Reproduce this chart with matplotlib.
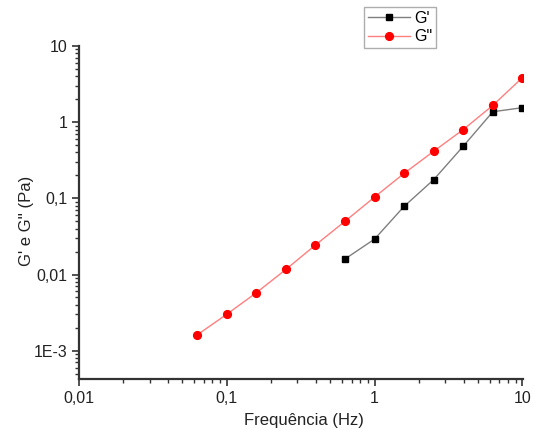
import matplotlib
matplotlib.use("Agg")
import matplotlib.pyplot as plt
from matplotlib.ticker import LogLocator, FixedLocator, FixedFormatter, NullFormatter

plt.rcParams['font.family'] = ['Liberation Sans', 'DejaVu Sans']

freq_g1 = [0.631, 1.0, 1.585, 2.512, 3.981, 6.31, 10.0]
g1 = [0.016, 0.0292, 0.0785, 0.176, 0.483, 1.37, 1.55]
freq_g2 = [0.063, 0.1, 0.158, 0.251, 0.398, 0.631, 1.0, 1.585, 2.512, 3.981, 6.31, 10.0]
g2 = [0.00161, 0.00301, 0.00574, 0.01165, 0.0244, 0.050, 0.104, 0.213, 0.415, 0.80, 1.66, 3.84]

xticks = [0.01, 0.1, 1, 10]
xticklabels = ["0,01", "0,1", "1", "10"]
yticks = [0.001, 0.01, 0.1, 1, 10]
yticklabels = ["1E-3", "0,01", "0,1", "1", "10"]

fig = plt.figure(figsize=(5.33, 4.30), dpi=100)
ax = fig.add_axes([79/533, 1 - 379/430, (523 - 79)/533, (379 - 46)/430])

l1, = ax.plot(freq_g1, g1, color='#7f7f7f', lw=1.0, marker='s', ms=4.8,
              mfc='black', mec='black', label="G'")
l2, = ax.plot(freq_g2, g2, color='#ff7f7f', lw=1.0, marker='o', ms=5.6,
              mfc='red', mec='red', label='G"')

ax.set_xscale('log')
ax.set_yscale('log')
ax.set_xlim(0.01, 10.1)
ax.set_ylim(4.25e-4, 10)

ax.xaxis.set_major_locator(FixedLocator(xticks))
ax.xaxis.set_major_formatter(FixedFormatter(xticklabels))
ax.yaxis.set_major_locator(FixedLocator(yticks))
ax.yaxis.set_major_formatter(FixedFormatter(yticklabels))
ax.xaxis.set_minor_locator(LogLocator(base=10, subs=range(2, 10), numticks=20))
ax.yaxis.set_minor_locator(LogLocator(base=10, subs=range(2, 10), numticks=20))
ax.xaxis.set_minor_formatter(NullFormatter())
ax.yaxis.set_minor_formatter(NullFormatter())

for s in ['top', 'right']:
    ax.spines[s].set_visible(False)
for s in ['left', 'bottom']:
    ax.spines[s].set_linewidth(1.6)
    ax.spines[s].set_color('#333333')

ax.tick_params(which='major', direction='out', length=5, width=1.2, colors='#333333',
               labelsize=11.5, labelcolor='#222222')
ax.tick_params(which='minor', direction='out', length=3, width=1.0, colors='#333333')

ax.set_xlabel("Frequência (Hz)", fontsize=12, color='#222222')
ax.xaxis.set_label_coords((304 - 79) / 444, -(413 - 379) / 333)
ax.set_ylabel("G' e G'' (Pa)", fontsize=12, color='#222222')
ax.yaxis.set_label_coords(-(79 - 34) / 444, (379 - 221) / 333)

leg = fig.legend(handles=[l1, l2], labels=["G'", 'G"'], loc='upper left',
                 bbox_to_anchor=(364/533, 1 - 7/430), fontsize=11.5,
                 frameon=True, fancybox=False, edgecolor='#999999',
                 handlelength=2.6, borderpad=0.25, labelspacing=0.2,
                 handletextpad=0.3, borderaxespad=0)
leg.get_frame().set_linewidth(1.0)

fig.savefig("out.png", dpi=100)
